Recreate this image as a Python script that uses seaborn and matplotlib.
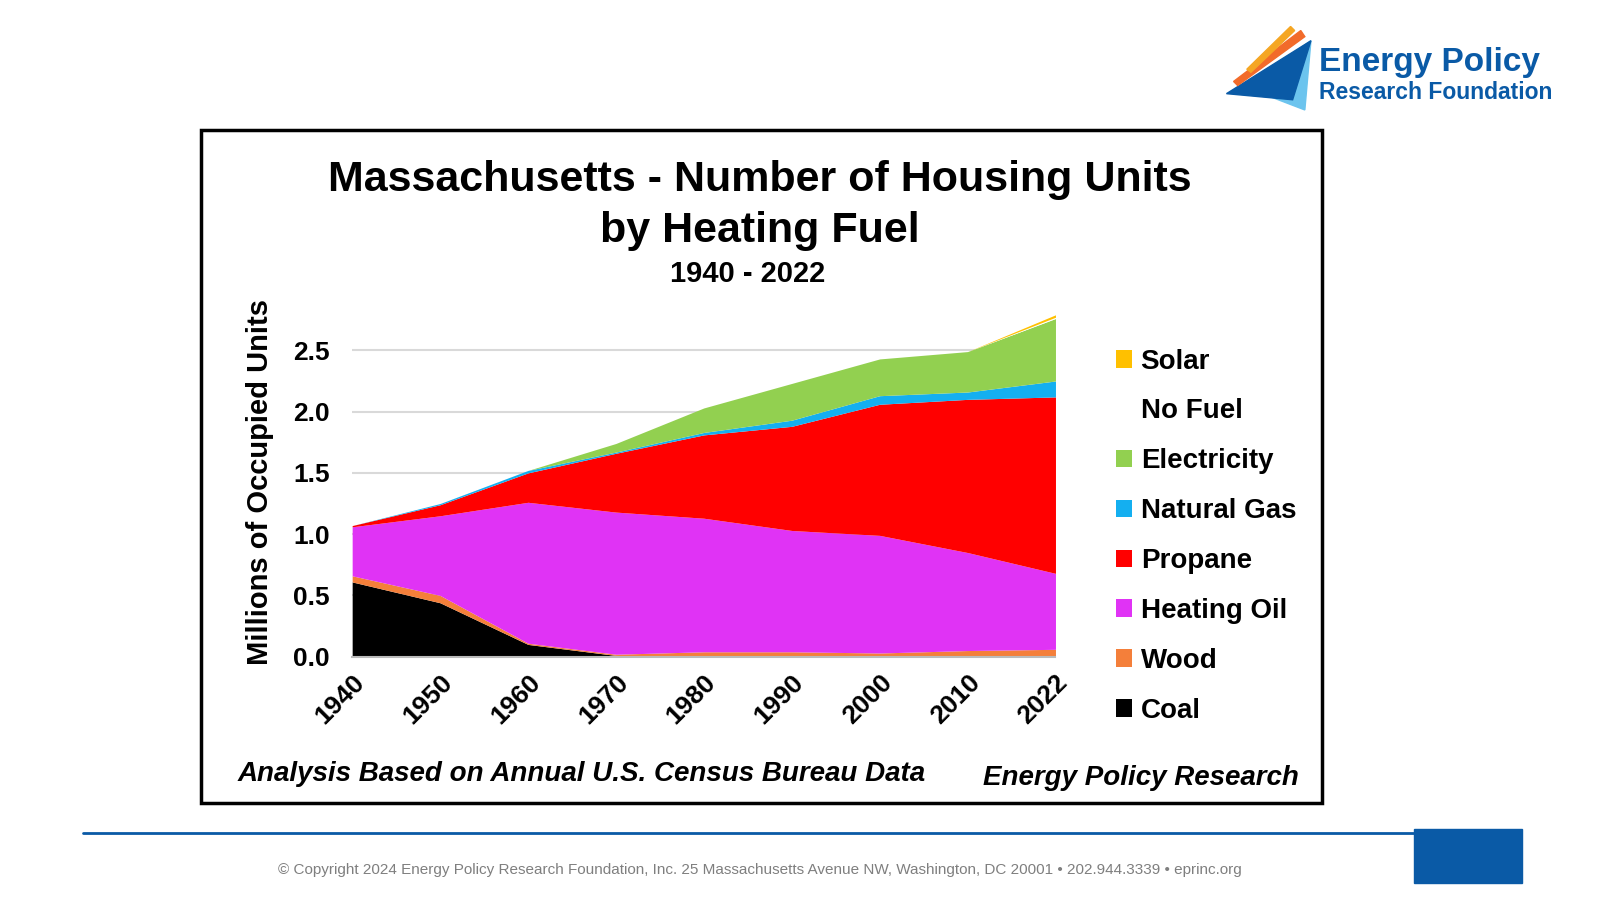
import numpy as np
import matplotlib.pyplot as plt
import seaborn as sns
from matplotlib.patches import Rectangle, Polygon

years = ['1940', '1950', '1960', '1970', '1980', '1990', '2000', '2010', '2022']
coal = [0.61, 0.44, 0.10, 0.01, 0.00, 0.00, 0.00, 0.00, 0.00]
wood = [0.05, 0.06, 0.01, 0.01, 0.04, 0.04, 0.03, 0.05, 0.06]
heating_oil = [0.40, 0.65, 1.15, 1.16, 1.09, 0.99, 0.96, 0.80, 0.62]
propane = [0.01, 0.09, 0.24, 0.48, 0.68, 0.85, 1.07, 1.25, 1.44]
natural_gas = [0.00, 0.01, 0.02, 0.01, 0.02, 0.05, 0.07, 0.06, 0.13]
electricity = [0.00, 0.00, 0.00, 0.07, 0.20, 0.30, 0.30, 0.33, 0.51]
no_fuel = [0.00, 0.00, 0.00, 0.00, 0.00, 0.00, 0.00, 0.00, 0.01]
solar = [0.00, 0.00, 0.00, 0.00, 0.00, 0.00, 0.00, 0.00, 0.02]

labels = ['Coal', 'Wood', 'Heating Oil', 'Propane', 'Natural Gas', 'Electricity', 'No Fuel', 'Solar']
colors = ['#000000', '#f47f3a', '#e033f5', '#ff0000', '#14aff0', '#92d050', '#ffffff', '#ffc000']

sns.set_theme(style='white')
plt.rcParams['font.family'] = ['Liberation Sans', 'DejaVu Sans']
plt.rcParams['text.color'] = 'black'
plt.rcParams['axes.labelcolor'] = 'black'
plt.rcParams['xtick.color'] = 'black'
plt.rcParams['ytick.color'] = 'black'

# reference coordinates measured in a scaled-down space
W, H = 1572, 884

fig = plt.figure(figsize=(16, 9), dpi=100)
fig.patch.set_facecolor('white')
tr = fig.transFigure


def fp(px, py):
    return (px / W, 1 - py / H)


# chart frame
fig.patches.append(Rectangle(fp(197, 789), 1102 / W, 661 / H, transform=tr, fill=False, lw=2.5, ec='black'))

ax = fig.add_axes([346 / W, 1 - 645 / H, 691 / W, 343 / H])
x = np.arange(len(years))
ax.stackplot(x, coal, wood, heating_oil, propane, natural_gas, electricity, no_fuel, solar,
             colors=colors, labels=labels, lw=0)
ax.set_xlim(0, len(years) - 1)
ax.set_ylim(0, 2.85)
ax.set_yticks([0, 0.5, 1.0, 1.5, 2.0, 2.5])
ax.set_yticklabels(['0.0', '0.5', '1.0', '1.5', '2.0', '2.5'], fontsize=19, fontweight='bold')
ax.set_xticks(x)
ax.set_xticklabels(years, rotation=45, ha='right', rotation_mode='anchor', fontsize=19, fontweight='bold')
ax.tick_params(axis='x', length=6, width=1.2, color='#bbbbbb', pad=4)
ax.tick_params(axis='y', pad=10)
ax.grid(axis='y', color='#d9d9d9', lw=1.5)
ax.set_axisbelow(True)
for s in ['top', 'right', 'left']:
    ax.spines[s].set_visible(False)
ax.spines['bottom'].set_color('#bbbbbb')
ax.spines['bottom'].set_linewidth(1.5)
ax.set_ylabel('Millions of Occupied Units', fontsize=21, fontweight='bold', labelpad=14)

handles, labs = ax.get_legend_handles_labels()
leg = ax.legend(handles[::-1], labs[::-1], loc='center left', bbox_to_anchor=(1.05, 0.345),
                frameon=False, fontsize=20, handlelength=0.6, handleheight=0.6,
                handletextpad=0.3, labelspacing=0.86)
for t in leg.get_texts():
    t.set_fontweight('bold')

fig.text(747 / W, 1 - 177 / H, 'Massachusetts - Number of Housing Units', ha='center', va='center',
         fontsize=31, fontweight='bold')
fig.text(747 / W, 1 - 227 / H, 'by Heating Fuel', ha='center', va='center', fontsize=31, fontweight='bold')
fig.text(735 / W, 1 - 269 / H, '1940 - 2022', ha='center', va='center', fontsize=21, fontweight='bold')
fig.text(233 / W, 1 - 760 / H, 'Analysis Based on Annual U.S. Census Bureau Data', ha='left', va='center',
         fontsize=20, fontweight='bold', style='italic')
fig.text(1276 / W, 1 - 764 / H, 'Energy Policy Research', ha='right', va='center',
         fontsize=20, fontweight='bold', style='italic')

# logo
fig.patches.append(Polygon([fp(1222, 85), fp(1288, 40), fp(1282, 108)], closed=True, transform=tr, color='#6cc4ee'))
fig.patches.append(Polygon([fp(1205, 92), fp(1288, 40), fp(1270, 98)], closed=True, transform=tr, color='#0a5aa6'))
fig.patches.append(Polygon([fp(1212, 80), fp(1278, 30), fp(1282, 36), fp(1216, 84)], closed=True, transform=tr, color='#f26b2a'))
fig.patches.append(Polygon([fp(1225, 68), fp(1268, 26), fp(1272, 30), fp(1229, 71)], closed=True, transform=tr, color='#f5a623'))
fig.text(1296 / W, 1 - 61 / H, 'Energy Policy', ha='left', va='center', fontsize=24,
         fontweight='bold', color='#0a5aa6')
fig.text(1296 / W, 1 - 91 / H, 'Research Foundation', ha='left', va='center', fontsize=16.5,
         fontweight='bold', color='#0a5aa6')

# footer
fig.lines.append(plt.Line2D([82 / W, 1390 / W], [1 - 818 / H] * 2, transform=tr, color='#0a5aa6', lw=2))
fig.patches.append(Rectangle(fp(1389, 867), 106 / W, 53 / H, transform=tr, color='#0a5aa6'))
fig.text(747 / W, 1 - 855 / H,
         '© Copyright 2024 Energy Policy Research Foundation, Inc. 25 Massachusetts Avenue NW, Washington, DC 20001 • 202.944.3339 • eprinc.org',
         ha='center', va='center', fontsize=11, color='#7f7f7f')

fig.savefig('out.png', dpi=100)
